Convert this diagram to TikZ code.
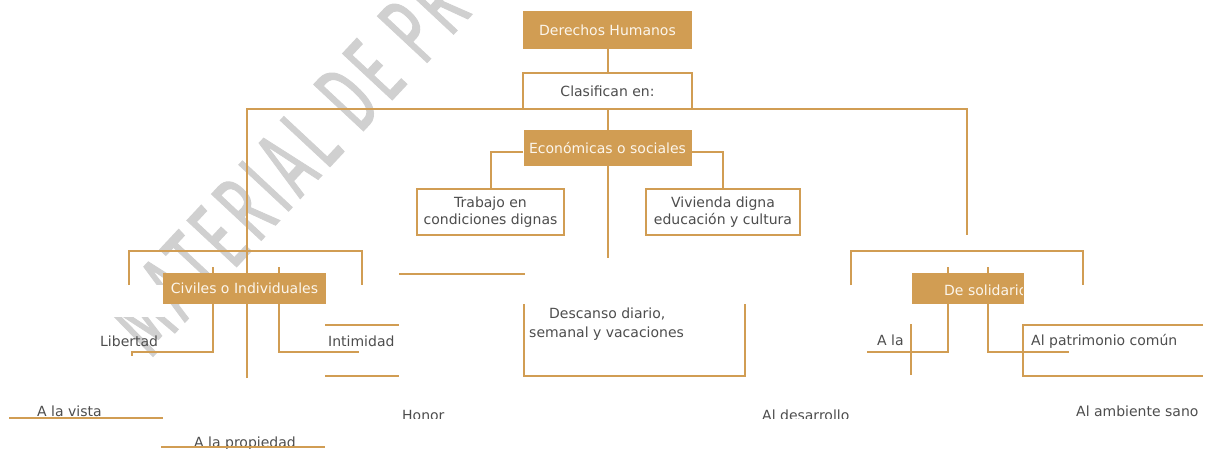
\documentclass[tikz,border=0pt]{standalone}
\usepackage{fontspec}
\setmainfont{DejaVu Sans}
\newfontfamily\wmfont[FakeBold=1.5,LetterSpace=10]{Fira Sans}
\definecolor{gold}{RGB}{209,157,83}
\definecolor{txt}{RGB}{77,77,77}
\definecolor{wm}{RGB}{208,208,208}
\definecolor{boxtxt}{RGB}{252,246,236}
\begin{document}
\begin{tikzpicture}[x=1pt,y=-1pt,
  ln/.style={draw=gold,line width=2pt},
  fillbox/.style={fill=gold,draw=none,text=boxtxt,inner sep=0pt,font=\fontsize{14}{17}\selectfont},
  outbox/.style={draw=gold,line width=2pt,fill=white,text=txt,inner sep=0pt,align=center,font=\fontsize{14}{17}\selectfont},
  lbl/.style={text=txt,inner sep=0pt,anchor=base west,font=\fontsize{14}{17}\selectfont}]
\useasboundingbox (0,0) rectangle (1213,448);
% watermark
\begin{scope}
\clip (0,0) rectangle (1213,448);
\node[text=wm,rotate=47,inner sep=0pt,font=\wmfont\fontsize{98}{98}\selectfont] (wmk) at (287,163) {\scalebox{0.58}[1]{MATERIAL DE PR}};
\end{scope}
\fill[white] (84,285) rectangle (164,317);
% top boxes
\node[fillbox,minimum width=169pt,minimum height=38pt] (dh) at (607.5,30) {Derechos Humanos};
\node[outbox,minimum width=169pt,minimum height=36pt] (cl) at (607.5,91) {Clasifican en:};
\node[fillbox,minimum width=168pt,minimum height=36pt] (ec) at (607.5,148) {Económicas o sociales};
\coordinate (hl) at (247,109);
\coordinate (hr) at (967,109);
\coordinate (lbot) at (247,378);
\coordinate (rbot) at (967,235);
\coordinate (cbot) at (607.5,258);
\draw[ln] (lbot) -- (hl) -- (hr) -- (rbot);
\draw[ln] (dh.south) -- (cl.north);
\draw[ln] (cl.south) -- (ec.north);
\draw[ln] (ec.south) -- (cbot);
% left group
\draw[ln] (129,285) -- (129,251) -- (362,251) -- (362,285);
\draw[ln] (213,267) -- (213,274);
\draw[ln] (279,267) -- (279,274);
\draw[ln] (213,304) -- (213,352) -- (132,352) -- (132,356);
\draw[ln] (279,304) -- (279,352) -- (359,352);
\draw[ln] (325,325) -- (399,325);
\draw[ln] (325,376) -- (399,376);
\draw[ln] (399,274) -- (525,274);
% middle open box
\draw[ln] (524,304) -- (524,376) -- (745,376) -- (745,304);
% right group
\draw[ln] (851,285) -- (851,251) -- (1083,251) -- (1083,285);
\draw[ln] (948,267) -- (948,274);
\draw[ln] (988,267) -- (988,274);
\draw[ln] (948,304) -- (948,352) -- (867,352);
\draw[ln] (911,324) -- (911,375);
\draw[ln] (988,304) -- (988,352) -- (1069,352);
\draw[ln] (1203,325) -- (1023,325) -- (1023,376) -- (1203,376);
% boxes
\node[outbox,minimum width=147pt,minimum height=46pt] (tr) at (490.5,212) {Trabajo en\\condiciones dignas};
\node[outbox,minimum width=154pt,minimum height=46pt] (vi) at (723,212) {Vivienda digna\\educación y cultura};
\draw[ln] (ec.west) ++(0,4) -| (tr.north);
\draw[ln] (ec.east) ++(0,4) -| (vi.north);
\node[fillbox,minimum width=163pt,minimum height=31pt] (ci) at (244.5,288.5) {Civiles o Individuales};
\node[fillbox,minimum width=112pt,minimum height=31pt] (so) at (968,288.5) {};
\begin{scope}
\clip (912,273) rectangle (1022,304);
\node[lbl,text=boxtxt] (sot) at (944,295) {De solidaridad};
\end{scope}
% labels
\node[lbl] (lib) at (100,346) {Libertad};
\node[lbl] (int) at (328,346) {Intimidad};
\node[lbl] (ala) at (877,345) {A la};
\node[lbl] (pat) at (1031,345) {Al patrimonio común};
\node[lbl] (amb) at (1076,416) {Al ambiente sano};
\node[lbl] (d1) at (549,318) {Descanso diario,};
\node[lbl] (d2) at (529,337) {semanal y vacaciones};
\node[lbl] (vis) at (37,416) {A la vista};
\node[lbl] (pro) at (194,447) {A la propiedad};
\begin{scope}
\clip (0,0) rectangle (1213,418);
\node[lbl] (hon) at (402,420) {Honor};
\node[lbl] (des) at (762,420) {Al desarrollo};
\end{scope}
\draw[ln] (9,418) -- (163,418);
\draw[ln] (161,447) -- (325,447);
\end{tikzpicture}
\end{document}
